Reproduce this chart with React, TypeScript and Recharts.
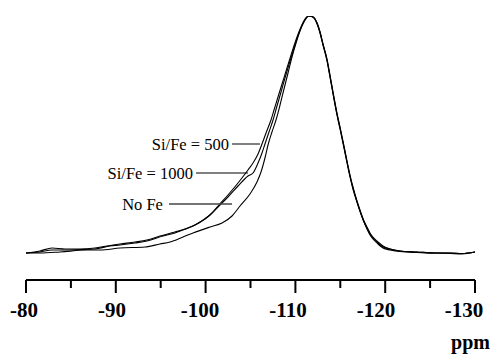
import { Line, LineChart, ReferenceLine, XAxis, YAxis } from "recharts";

const SERIF = '"Liberation Serif", "Times New Roman", serif';

// ppm positions and intensities (intensity in arbitrary units)
const PPM_500 = [
  -80, -81.56, -82.9, -84.34, -86.01, -87.68, -89.02, -90.47, -92.14, -93.47, -94.92, -96.59,
  -97.71, -98.82, -99.93, -100.71, -101.49, -102.49, -103.61, -104.72, -105.28, -105.84, -106.28,
  -106.73, -107.28, -107.62, -108.06, -108.51, -109.06, -109.62, -110.18, -110.62, -111.07,
  -111.51, -111.96, -112.41, -112.74, -113.07, -113.52, -113.85, -114.19, -114.63, -114.97,
  -115.41, -115.75, -116.08, -116.41, -116.86, -117.19, -117.64, -117.97, -118.31, -118.64,
  -119.2, -119.76, -120.53, -121.65, -123.54, -125.55, -127.22, -128.55, -130,
];
const INT_500 = [
  0, 2, 5, 4, 4, 5, 7, 9, 11, 13, 17, 21, 24, 28, 34, 40, 48, 58, 70, 83, 90, 99, 109, 120, 133,
  143, 156, 169, 185, 201, 216, 226, 234, 237, 236, 230, 221, 209, 193, 177, 160, 139, 125, 106,
  91, 77, 65, 51, 42, 31, 25, 19, 15, 10, 6, 4, 2, 1, 0, 0, -0.5, 1,
];

const PPM_1000 = [
  -80, -81.56, -82.9, -84.34, -86.01, -87.68, -89.35, -90.47, -92.14, -93.47, -95.26, -96.59,
  -97.48, -98.6, -99.38, -100.49, -101.49, -102.49, -103.61, -104.72, -105.28, -105.84, -106.28,
  -106.61, -107.06, -107.51, -107.95, -108.4, -108.84, -109.4, -109.96, -110.4, -110.85, -111.18,
  -111.51, -111.96, -112.41, -112.74, -113.07, -113.52, -113.85, -114.19, -114.63, -114.97,
  -115.41, -115.75, -116.08, -116.41, -116.86, -117.19, -117.64, -117.97, -118.31, -118.64,
  -119.2, -119.76, -120.53, -121.65, -123.54, -125.55, -127.22, -128.55, -130,
];
const INT_1000 = [
  0, 1, 3, 3, 3.5, 4, 7, 8, 10, 12, 17, 20, 23, 27, 31, 38, 47, 56, 67, 77, 80, 90, 100, 109,
  121, 133, 147, 161, 175, 192, 208, 220, 230, 235, 237, 236, 230, 221, 209, 194, 178, 161, 140,
  126, 107, 92, 78, 66, 52, 43, 32, 26, 20, 16, 11, 7, 4, 2, 1, 0, 0, -0.5, 1,
];

const PPM_NOFE = [
  -80, -81.56, -83.79, -86.79, -88.24, -90.47, -93.25, -94.92, -96.04, -97.48, -98.6, -100.49,
  -101.83, -102.94, -103.83, -104.94, -105.72, -106.17, -106.61, -106.95, -107.39, -107.84,
  -108.29, -108.73, -109.18, -109.62, -110.07, -110.51, -110.96, -111.51, -111.96, -112.41,
  -112.74, -113.07, -113.52, -113.85, -114.19, -114.63, -114.97, -115.41, -115.75, -116.08,
  -116.41, -116.86, -117.19, -117.64, -117.97, -118.31, -118.64, -119.2, -119.76, -120.53,
  -121.65, -123.54, -125.55, -127.22, -128.55, -130,
];
const INT_NOFE = [
  0, 0, 1, 3, 3, 5, 6, 9, 11, 16, 20, 26, 30, 37, 47, 59, 71, 81, 95, 108, 121, 133, 148, 164,
  180, 196, 210, 222, 231, 237, 236, 229, 220, 208, 192, 176, 159, 138, 124, 105, 90, 76, 64,
  51, 42, 31, 24, 18, 14, 9, 5, 3, 1.5, 0.5, 0, -0.5, -1, 1,
];

const MAJOR_TICKS = [-80, -90, -100, -110, -120, -130];
const MINOR_TICKS = [-85, -95, -105, -115, -125];
const ALL_TICKS = [...MAJOR_TICKS, ...MINOR_TICKS].sort((a, b) => b - a);

// annotation label, leader start/end (ppm) and height
const LABELS = ["Si/Fe = 500", "Si/Fe = 1000", "No Fe"];
const LEADER_FROM = [-102.94, -98.93, -95.92];
const LEADER_TO = [-106.06, -104.72, -102.94];
const LEADER_AT = [109, 80, 49];

function toRows(ppm: number[], vals: number[]) {
  return ppm.map((p, i) => ({ ppm: p, v: vals[i] }));
}

function PpmTick(props: any) {
  const { x, y, payload } = props;
  const major = MAJOR_TICKS.includes(payload.value);
  const labelX = x - 2 - (x - 26) * 0.02;
  return (
    <g>
      <line x1={x} x2={x} y1={y} y2={y + (major ? 13 : 8)} stroke="#000" strokeWidth={2} />
      {major && (
        <text
          x={labelX}
          y={y + 37}
          textAnchor="middle"
          fontFamily={SERIF}
          fontWeight="bold"
          fontSize={21}
          fill="#000"
        >
          {String(payload.value)}
        </text>
      )}
    </g>
  );
}

export default function App() {
  const series = [
    toRows(PPM_500, INT_500),
    toRows(PPM_1000, INT_1000),
    toRows(PPM_NOFE, INT_NOFE),
  ];

  return (
    <div style={{ position: "absolute", left: 0, top: 0, width: 492, height: 356, background: "#fff" }}>
      <LineChart width={492} height={356} margin={{ top: 16, right: 17, bottom: 0, left: 26 }}>
        <XAxis
          type="number"
          dataKey="ppm"
          domain={[-130, -80]}
          reversed
          allowDataOverflow
          ticks={ALL_TICKS}
          interval={0}
          height={76}
          tickSize={0}
          tickMargin={0}
          tickLine={false}
          tick={<PpmTick />}
          axisLine={{ stroke: "#000", strokeWidth: 2 }}
          label={{
            value: "ppm",
            position: "insideBottomRight",
            offset: 7,
            dx: 22,
            style: { fontFamily: SERIF, fontWeight: "bold", fontSize: 20, fill: "#000" },
          }}
        />
        <YAxis hide type="number" domain={[-27, 237]} allowDataOverflow />
        {series.map((rows, i) => (
          <Line
            key={LABELS[i]}
            data={rows}
            dataKey="v"
            name={LABELS[i]}
            type="monotone"
            stroke="#000"
            strokeWidth={1.1}
            dot={false}
            activeDot={false}
            isAnimationActive={false}
          />
        ))}
        {LABELS.map((text, i) => (
          <ReferenceLine
            key={text}
            segment={[
              { x: LEADER_FROM[i], y: LEADER_AT[i] },
              { x: LEADER_TO[i], y: LEADER_AT[i] },
            ]}
            stroke={i === 2 ? "#444" : "#000"}
            strokeWidth={i === 2 ? 1.5 : 1}
            label={{
              value: text,
              position: "left",
              offset: i === 2 ? 6 : 3,
              style: { fontFamily: SERIF, fontSize: 16.5, fill: "#000" },
            }}
          />
        ))}
      </LineChart>
    </div>
  );
}
